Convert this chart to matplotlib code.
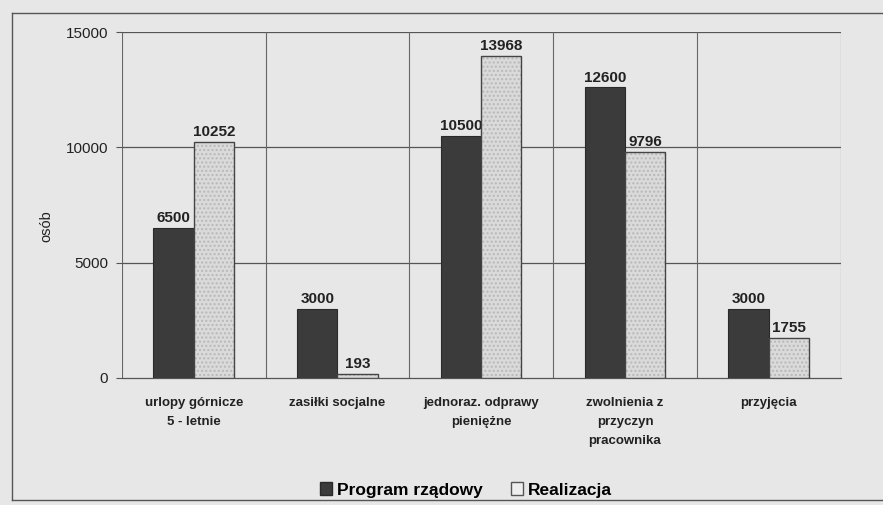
import numpy as np
import matplotlib.pyplot as plt
from matplotlib.lines import Line2D
from matplotlib.patches import Patch

plt.rcParams['font.family'] = ['Liberation Sans', 'DejaVu Sans']

categories = ["urlopy górnicze\n5 - letnie", "zasiłki socjalne", "jednoraz. odprawy\npieniężne",
              "zwolnienia z\nprzyczyn\npracownika", "przyjęcia"]
program = [6500, 3000, 10500, 12600, 3000]
realizacja = [10252, 193, 13968, 9796, 1755]
yticks = [0, 5000, 10000, 15000]

bg = "#e7e7e7"
fig = plt.figure(figsize=(8.83, 5.05), dpi=100, facecolor=bg)
ax = fig.add_axes([0.138, 0.2515, 0.814, 0.685], facecolor=bg)

x = np.arange(len(categories))
w = 0.28
ax.bar(x - w / 2, program, w, color="#3b3b3b", edgecolor="#2a2a2a", linewidth=0.8, zorder=3)
ax.bar(x + w / 2, realizacja, w, color="#dadada", edgecolor="#b8b8b8", hatch="....",
       linewidth=0, zorder=3)
ax.bar(x + w / 2, realizacja, w, fill=False, edgecolor="#444444", linewidth=1.0, zorder=4)

for xi, v in zip(x - w / 2, program):
    ax.text(xi, v + 120, str(v), ha="center", va="bottom", fontsize=11, fontweight="bold", color="#222222")
for xi, v in zip(x + w / 2, realizacja):
    ax.text(xi, v + 120, str(v), ha="center", va="bottom", fontsize=11, fontweight="bold", color="#222222")

ax.set_ylim(0, 15000)
ax.set_xlim(-0.5, len(categories) - 0.5)
ax.set_yticks(yticks)
ax.set_yticklabels([str(t) for t in yticks], fontsize=11, color="#222222")
ax.tick_params(axis="y", length=4, width=0.8, color="#555555", pad=6)
ax.set_xticks(x)
ax.set_xticklabels(categories, fontsize=9.5, fontweight="bold", color="#222222", linespacing=1.75)
ax.tick_params(axis="x", length=0, pad=14)

# grid: horizontal at ticks, vertical at category boundaries
for t in yticks[1:]:
    ax.axhline(t, color="#555555", linewidth=0.9, zorder=1)
for b in np.arange(-0.5, len(categories), 1.0):
    ax.axvline(b, color="#666666", linewidth=0.8, zorder=1)
for s in ["top", "right", "left"]:
    ax.spines[s].set_visible(False)
ax.spines["bottom"].set_color("#555555")
ax.spines["bottom"].set_linewidth(0.9)

fig.text(0.052, 0.552, "osób", rotation=90, ha="center", va="center", fontsize=10.5, color="#222222")

# legend
handles = [Patch(facecolor="#3b3b3b", edgecolor="#2a2a2a"),
           Patch(facecolor="#eeeeee", edgecolor="#555555")]
fig.legend(handles, ["Program rządowy", "Realizacja"], loc="center", bbox_to_anchor=(0.528, 0.03),
           ncol=2, frameon=False, prop={"size": 12.5, "weight": "bold"}, handlelength=0.7,
           handleheight=0.8, handletextpad=0.3, columnspacing=1.6)

# outer chart frame
fh, fw = 505, 883
fig.add_artist(Line2D([12 / fw, 1.0], [1 - 13 / fh, 1 - 13 / fh], color="#555555", lw=1.0))
fig.add_artist(Line2D([12 / fw, 12 / fw], [1 - 13 / fh, 1 - 500 / fh], color="#555555", lw=1.0))
fig.add_artist(Line2D([12 / fw, 1.0], [1 - 500 / fh, 1 - 500 / fh], color="#555555", lw=1.0))

fig.savefig("out.png", dpi=100, facecolor=bg)
